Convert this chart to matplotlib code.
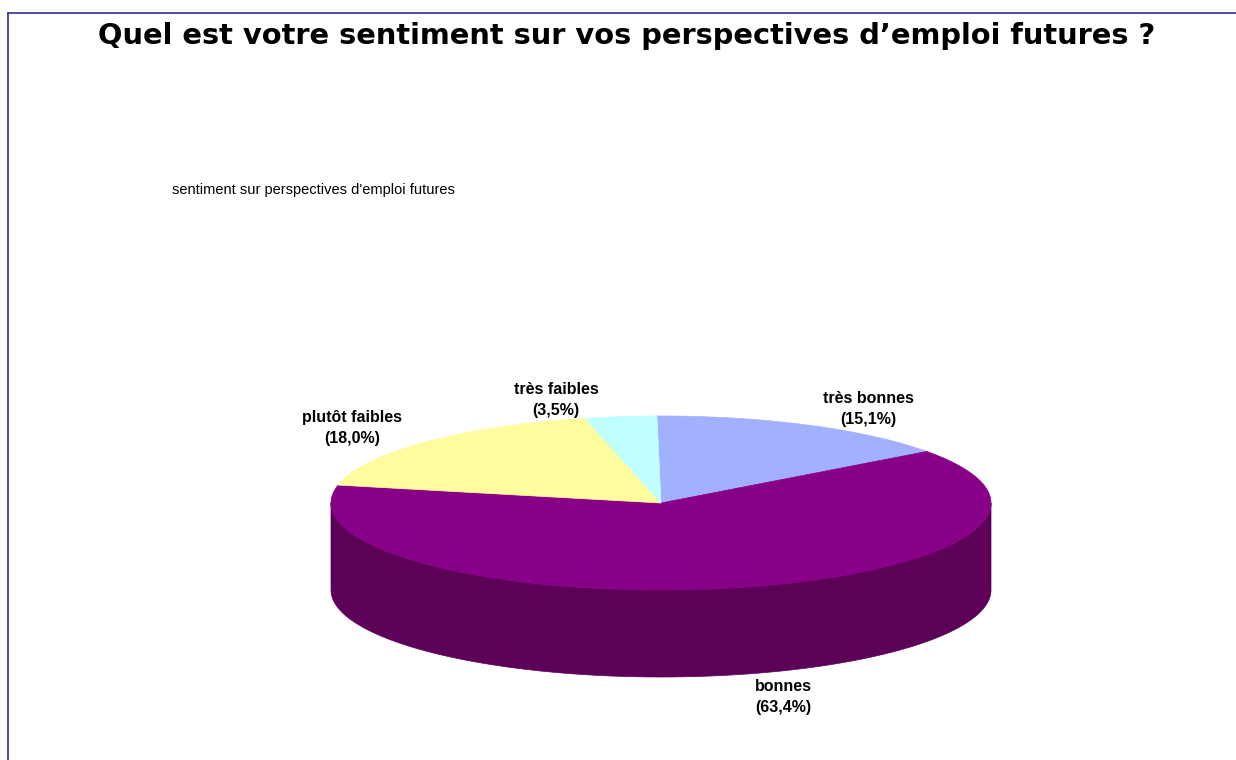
import matplotlib.pyplot as plt
import numpy as np
from matplotlib.patches import Polygon

# Survey answers (share of respondents, %)
categories = ['très bonnes', 'bonnes', 'plutôt faibles', 'très faibles']
shares = [15.1, 63.4, 18.0, 3.5]
top_colors = ['#A1B0FF', '#880088', '#FFFC9E', '#BFFFFF']
side_colors = ['#6B77B0', '#5C0058', '#B0AD6A', '#83B0B0']

# label anchors (pixels) for each slice
label_pos = [(868, 409), (783, 697), (352, 428), (556, 400)]

W, H = 1236, 760
fig = plt.figure(figsize=(W / 100, H / 100), dpi=100)
ax = fig.add_axes([0, 0, 1, 1])
ax.set_xlim(0, W)
ax.set_ylim(H, 0)
ax.axis('off')

# pie geometry: flattened ellipse with an extruded side
cx, cy = 661, 503
rx, ry = 330, 87
depth = 87
start = -0.7  # Excel starts the first slice just left of 12 o'clock


def ellipse_pts(t):
    # angle t in degrees, clockwise from 12 o'clock
    r = np.radians(t)
    return cx + rx * np.sin(r), cy - ry * np.cos(r)


bounds = start + np.concatenate([[0], np.cumsum(shares)]) * 360 / 100.0

# front side of the cylinder (only the part facing the viewer, 90..270 deg)
for i in range(len(shares)):
    t1, t2 = max(bounds[i], 90), min(bounds[i + 1], 270)
    if t2 <= t1:
        continue
    t = np.linspace(t1, t2, 200)
    x, y = ellipse_pts(t)
    pts = np.column_stack([np.concatenate([x, x[::-1]]),
                           np.concatenate([y, y[::-1] + depth])])
    ax.add_patch(Polygon(pts, closed=True, facecolor=side_colors[i],
                         edgecolor=side_colors[i], lw=0.5))

# top face slices
for i in range(len(shares)):
    t = np.linspace(bounds[i], bounds[i + 1], 300)
    x, y = ellipse_pts(t)
    pts = np.column_stack([np.concatenate([[cx], x]), np.concatenate([[cy], y])])
    ax.add_patch(Polygon(pts, closed=True, facecolor=top_colors[i],
                         edgecolor=top_colors[i], lw=0.5))

# slice labels
for name, val, (lx, ly) in zip(categories, shares, label_pos):
    txt = '%s\n(%s%%)' % (name, ('%.1f' % val).replace('.', ','))
    ax.text(lx, ly, txt, ha='center', va='center', fontsize=11.5,
            fontweight='bold', family='Liberation Sans', linespacing=1.5)

ax.text(627, 36, 'Quel est votre sentiment sur vos perspectives d\u2019emploi futures ?',
        ha='center', va='center', fontsize=20.8, fontweight='bold',
        family='DejaVu Sans')
ax.text(172, 190, "sentiment sur perspectives d'emploi futures",
        ha='left', va='center', fontsize=10.5, family='Liberation Sans')

# frame lines along the top and left edges
ax.plot([8, W], [13, 13], color='#2E2E96', lw=1.2)
ax.plot([8, 8], [13, H], color='#2E2E96', lw=1.2)

fig.savefig('out.png', dpi=100)
